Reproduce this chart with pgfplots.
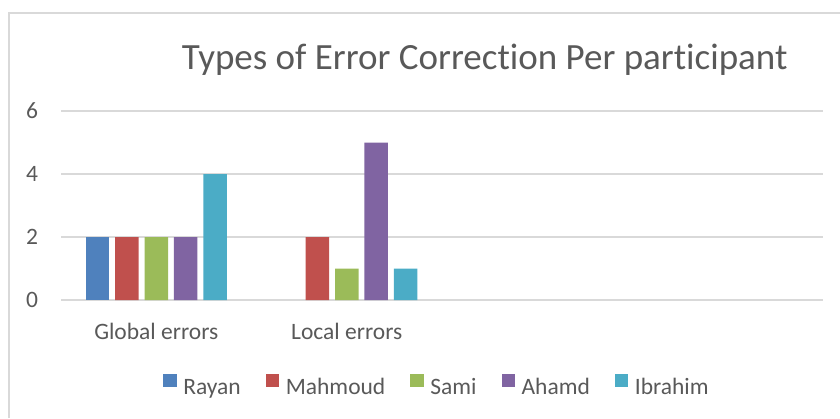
\documentclass[border=0pt]{standalone}
\usepackage{pgfplots}
\pgfplotsset{compat=1.18}
\usepackage{fontspec}
\setmainfont[Ligatures={NoCommon}, RawFeature={-liga;-clig;-dlig}]{Carlito}
\definecolor{rayan}{HTML}{4F81BD}
\definecolor{mahmoud}{HTML}{C0504D}
\definecolor{sami}{HTML}{9BBB59}
\definecolor{ahamd}{HTML}{8064A2}
\definecolor{ibrahim}{HTML}{4BACC6}
\definecolor{txt}{HTML}{595959}
\definecolor{gridc}{HTML}{D9D9D9}
\begin{document}
\begin{tikzpicture}[x=1pt,y=1pt]
\path[use as bounding box] (0,0) rectangle (840,418);
\draw[gridc, line width=2pt] (8.5,0) -- (8.5,405.3) -- (840,405.3);
\node[anchor=base, text=txt, font=\fontsize{37}{40}\selectfont, inner sep=0pt] at (484.7,348) {Types of Error Correc\kern0pt tion Per par\kern0pt ticipant};
\begin{axis}[
  at={(61pt,118pt)}, anchor=south west,
  scale only axis, width=762pt, height=189pt,
  xmin=-0.5, xmax=3.5, ymin=0, ymax=6,
  ytick={0,2,4,6}, xtick={0,1},
  xticklabels={Global errors, Local errors},
  axis line style={draw=none},
  major tick length=0pt,
  ymajorgrids, grid style={gridc, line width=1.5pt},
  ybar=5.9pt, bar width=23.5pt,
  tick label style={font=\fontsize{23.5}{28}\selectfont, text=txt},
  /pgf/number format/assume math mode=true,
  yticklabel style={anchor=east, inner sep=0pt, xshift=-22.7pt},
  xticklabel style={anchor=base, inner sep=0pt, yshift=-39.3pt},
  legend columns=5,
  legend cell align=left,
  legend image code/.code={\path[#1, draw=none] (0pt,0pt) rectangle (13.5pt,13.5pt);},
  legend style={at={(0.1343,-0.4497)}, anchor=west, draw=none, fill=none,
    inner sep=0pt, outer sep=0pt,
    font=\fontsize{23.5}{28}\selectfont, text=txt,
    nodes={inner sep=0pt},
    /tikz/every odd column/.append style={column sep=6.5pt},
    /tikz/every even column/.append style={column sep=25pt}},
]
\addplot[fill=rayan, draw=none] coordinates {(0,2)};
\addplot[fill=mahmoud, draw=none] coordinates {(0,2) (1,2)};
\addplot[fill=sami, draw=none] coordinates {(0,2) (1,1)};
\addplot[fill=ahamd, draw=none] coordinates {(0,2) (1,5)};
\addplot[fill=ibrahim, draw=none] coordinates {(0,4) (1,1)};
\legend{Rayan, Mahmoud, Sami, Ahamd, Ibrahim}
\end{axis}
\end{tikzpicture}
\end{document}
